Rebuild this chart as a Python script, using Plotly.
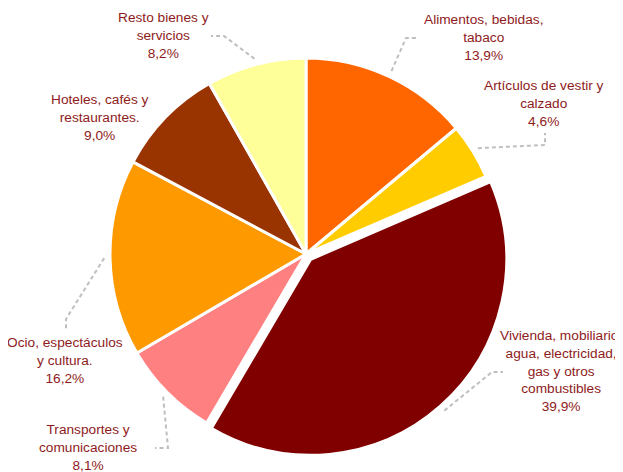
import math
import plotly.graph_objects as go

# ---- data ----
categories = [
    "Alimentos, bebidas,<br>tabaco",
    "Artículos de vestir y<br>calzado",
    "Vivienda, mobiliario,<br>agua, electricidad,<br>gas y otros<br>combustibles",
    "Transportes y<br>comunicaciones",
    "Ocio, espectáculos<br>y cultura.",
    "Hoteles, cafés y<br>restaurantes.",
    "Resto bienes y<br>servicios",
]
values = [13.9, 4.6, 39.9, 8.1, 16.2, 9.0, 8.2]
value_labels = ["13,9%", "4,6%", "39,9%", "8,1%", "16,2%", "9,0%", "8,2%"]

# ---- style ----
colors = ["#FF6600", "#FFCC00", "#800000", "#FF8080", "#FF9900", "#993300", "#FFFF99"]
pulls = [0, 0, 0.036, 0, 0, 0, 0]
TEXT_COLOR = "#8E1B1B"
LEADER_COLOR = "#BFBFBF"
WIN_W, WIN_H = 623, 472
OFF = 8  # page body margin
W, H = WIN_W - OFF, WIN_H - OFF
CX, CY, R = 306, 254, 196  # pixel geometry of the pie (window pixels)

# label block centres (pixels) and leader bend/end points (pixels)
label_pos = [(484, 37), (544, 104), (561, 371), (88, 447), (65, 360), (100, 118), (163, 35)]
leader_pts = [
    [(406, 38), (418, 38)],
    [(545, 145), (545, 133)],
    [(492, 372), (503, 372)],
    [(168, 448), (155, 448)],
    [(66, 319), (66, 331)],
    None,
    [(224, 36), (211, 36)],
]

def px(x, y):
    return (x - OFF) / W, 1 - (y - OFF) / H

maxpull = max(pulls)
half = R * (1 + maxpull)
x0, y1 = px(CX - half, CY - half)
x1, y0 = px(CX + half, CY + half)

fig = go.Figure(go.Pie(
    values=values,
    labels=categories,
    sort=False,
    direction="clockwise",
    rotation=0,
    pull=pulls,
    marker=dict(colors=colors, line=dict(color="white", width=3)),
    textinfo="none",
    hoverinfo="none",
    showlegend=False,
    domain=dict(x=[x0, x1], y=[y0, y1]),
))

total = sum(values)
cum = 0
annotations = []
shapes = []
for i, v in enumerate(values):
    mid = (cum + v / 2) / total * 2 * math.pi
    cum += v
    ox = CX + pulls[i] * R * math.sin(mid)
    oy = CY - pulls[i] * R * math.cos(mid)
    sx = ox + R * 1.03 * math.sin(mid)
    sy = oy - R * 1.03 * math.cos(mid)
    if leader_pts[i]:
        pts = [(sx, sy)] + leader_pts[i]
        path = ""
        for k, (a, b) in enumerate(pts):
            u, w = px(a, b)
            path += ("M" if k == 0 else " L") + f" {u:.5f},{w:.5f}"
        shapes.append(dict(type="path", path=path, xref="paper", yref="paper",
                           line=dict(color=LEADER_COLOR, width=2, dash="4px,3px")))
    lx, ly = px(*label_pos[i])
    annotations.append(dict(
        x=lx, y=ly, xref="paper", yref="paper",
        text=categories[i] + "<br>" + value_labels[i],
        showarrow=False, xanchor="center", yanchor="middle", align="center",
        font=dict(family="Liberation Sans, Arial, sans-serif", size=13.7, color=TEXT_COLOR),
    ))

fig.update_layout(
    width=W, height=H,
    margin=dict(l=0, r=0, t=0, b=0),
    paper_bgcolor="white", plot_bgcolor="white",
    annotations=annotations,
    shapes=shapes,
)

fig.write_html("out.html")
